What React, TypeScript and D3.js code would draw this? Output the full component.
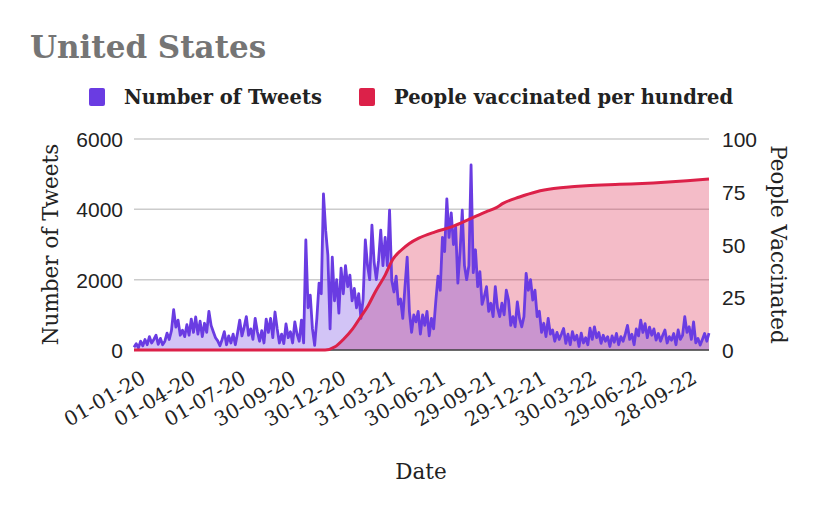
import React from 'react';
import * as d3 from 'd3';

// Tweets: one value every 4 days from 01-01-2020
const tweetStart = '2020-01-01';
const tweetStepDays = 4;
const tweetValues = [
  80, 180, 60, 250, 120, 300, 150, 380, 200, 300, 420, 160, 330, 150, 250,
  480, 300, 550, 1150, 650, 850, 420, 560, 380, 720, 420, 880, 500, 940, 450,
  820, 380, 760, 500, 1100, 700, 520, 350, 260, 120, 300, 520, 150, 400, 200,
  450, 150, 480, 850, 400, 650, 950, 420, 600, 300, 900, 520, 250, 550, 200,
  880, 500, 900, 350, 1080, 600, 200, 450, 180, 740, 350, 520, 200, 800, 450,
  250, 850, 200, 3130, 1200, 1560, 600, 130, 900, 1900, 1600, 4440, 3400, 2700, 600,
  2640, 1400, 2000, 1050, 2330, 1600, 2400, 1800, 2130, 1400, 1750, 1200, 1600, 900, 1450,
  3130, 2400, 2000, 3550, 2500, 2000, 2540, 3410, 2400, 3200, 2400, 3980, 1980, 1650, 2100,
  1300, 1450, 900, 1800, 2640, 1100, 500, 1000, 800, 1100, 450, 1000, 700, 1100, 400,
  900, 600, 1400, 2100, 1700, 3200, 2800, 4300, 3200, 3900, 3000, 3500, 1900, 2800, 3980,
  2400, 2000, 2400, 5260, 2200, 2850, 1800, 2230, 1300, 1520, 1800, 1100, 1330, 950, 1800,
  1200, 950, 1330, 1000, 1700, 1420, 700, 950, 660, 1370, 900, 660, 950, 2180, 1700,
  2000, 1420, 1700, 950, 1100, 500, 760, 380, 900, 450, 570, 250, 500, 300, 450,
  610, 190, 450, 150, 520, 280, 420, 100, 480, 200, 350, 150, 620, 300, 660,
  350, 500, 190, 420, 250, 380, 100, 400, 220, 470, 150, 380, 250, 450, 700,
  300, 450, 150, 600, 400, 850, 500, 750, 350, 650, 420, 600, 280, 470, 250,
  420, 570, 200, 380, 280, 470, 150, 570, 300, 420, 950, 500, 660, 300, 800,
  200, 330, 140, 300, 470, 250, 480,
];

// People vaccinated per hundred
const vaxDates = [
  '2020-01-01', '2020-12-13', '2020-12-31', '2021-01-15', '2021-02-01', '2021-02-15',
  '2021-03-01', '2021-03-15', '2021-04-01', '2021-04-15', '2021-05-01', '2021-05-15',
  '2021-06-01', '2021-07-01', '2021-08-01', '2021-09-01', '2021-10-01', '2021-10-20',
  '2021-11-01', '2021-12-01', '2022-01-01', '2022-02-01', '2022-03-01', '2022-04-01',
  '2022-06-01', '2022-08-01', '2022-10-01', '2022-11-10',
];
const vaxValues = [
  0, 0, 1.5, 5, 10, 15.5,
  21, 28, 35.5, 43, 47.5, 50.5,
  53, 56, 58.5, 62, 65.5, 67.5,
  69.5, 72.5, 75, 76.5, 77.3, 77.8,
  78.5, 79.2, 80.2, 81,
];

const xTickDates = [
  '2020-01-01', '2020-04-01', '2020-07-01', '2020-09-30', '2020-12-30', '2021-03-31',
  '2021-06-30', '2021-09-29', '2021-12-29', '2022-03-30', '2022-06-29', '2022-09-28',
];
const xTickLabels = [
  '01-01-20', '01-04-20', '01-07-20', '30-09-20', '30-12-20', '31-03-21',
  '30-06-21', '29-09-21', '29-12-21', '30-03-22', '29-06-22', '28-09-22',
];
const leftTicks = [0, 2000, 4000, 6000];
const rightTicks = [0, 25, 50, 75, 100];

const PURPLE = '#6a3ce2';
const RED = '#dc2149';
const SERIF = '"DejaVu Serif", serif';
const SANS = '"Liberation Sans", Arial, sans-serif';

export default function App() {
  const width = 832;
  const height = 513;
  const margin = { top: 139, right: 123, bottom: 163, left: 134 };
  const innerW = width - margin.left - margin.right;
  const innerH = height - margin.top - margin.bottom;

  const parse = d3.timeParse('%Y-%m-%d');
  const start = parse(tweetStart) as Date;
  const tweets = tweetValues.map((v, i) => ({ date: d3.timeDay.offset(start, i * tweetStepDays), value: v }));
  const vax = vaxDates.map((d, i) => ({ date: parse(d) as Date, value: vaxValues[i] }));

  const x = d3.scaleTime()
    .domain([start, tweets[tweets.length - 1].date])
    .range([0, innerW]);
  const yL = d3.scaleLinear().domain([0, 6000]).range([innerH, 0]);
  const yR = d3.scaleLinear().domain([0, 100]).range([innerH, 0]);

  type P = { date: Date; value: number };
  const tweetLine = d3.line<P>().x(d => x(d.date)).y(d => yL(d.value));
  const tweetArea = d3.area<P>().x(d => x(d.date)).y0(innerH).y1(d => yL(d.value));
  const vaxLine = d3.line<P>().x(d => x(d.date)).y(d => yR(d.value)).curve(d3.curveMonotoneX);
  const vaxArea = d3.area<P>().x(d => x(d.date)).y0(innerH).y1(d => yR(d.value)).curve(d3.curveMonotoneX);

  return (
    <svg width={width} height={height} style={{ position: 'absolute', left: 0, top: 0, background: '#fff' }}>
      <text x={30} y={58} fontFamily={SERIF} fontWeight="bold" fontSize={31} fill="#757575">
        United States
      </text>

      {/* legend */}
      <g fontFamily={SERIF} fontWeight="bold" fontSize={19.5} fill="#222">
        <rect x={89} y={88} width={16} height={18} rx={2} fill={PURPLE} />
        <text x={124} y={104}>Number of Tweets</text>
        <rect x={359} y={88} width={16} height={18} rx={2} fill={RED} />
        <text x={394} y={104}>People vaccinated per hundred</text>
      </g>

      <g transform={`translate(${margin.left},${margin.top})`}>
        {leftTicks.map(t => (
          <line key={t} x1={0} x2={innerW} y1={yL(t)} y2={yL(t)} stroke="#cccccc" strokeWidth={1.5} />
        ))}

        <path d={vaxArea(vax) ?? ''} fill={RED} fillOpacity={0.3} />
        <path d={tweetArea(tweets) ?? ''} fill={PURPLE} fillOpacity={0.3} />
        <line x1={0} x2={innerW} y1={innerH} y2={innerH} stroke="#444" strokeWidth={1.5} />
        <path d={tweetLine(tweets) ?? ''} fill="none" stroke={PURPLE} strokeWidth={2.8} strokeLinejoin="round" />
        <path d={vaxLine(vax) ?? ''} fill="none" stroke={RED} strokeWidth={3} />

        {leftTicks.map(t => (
          <text key={t} x={-11} y={yL(t) + 8} textAnchor="end" fontFamily={SANS} fontSize={21} fill="#222">
            {t}
          </text>
        ))}
        {rightTicks.map(t => (
          <text key={t} x={innerW + 13} y={yR(t) + 8} fontFamily={SANS} fontSize={21} fill="#222">
            {t}
          </text>
        ))}

        {xTickDates.map((d, i) => {
          const tx = x(parse(d) as Date) + 13;
          const ty = innerH + 32;
          return (
            <text key={d} x={tx} y={ty} textAnchor="end" transform={`rotate(-30,${tx},${ty})`}
              fontFamily={SERIF} fontSize={20} fill="#222">
              {xTickLabels[i]}
            </text>
          );
        })}
      </g>

      <text transform={`translate(58,${margin.top + innerH / 2}) rotate(-90)`} textAnchor="middle"
        fontFamily={SERIF} fontSize={21.5} fill="#222">
        Number of Tweets
      </text>
      <text transform={`translate(771,${margin.top + innerH / 2}) rotate(90)`} textAnchor="middle"
        fontFamily={SERIF} fontSize={21.5} fill="#222">
        People Vaccinated
      </text>
      <text x={421} y={479} textAnchor="middle" fontFamily={SERIF} fontSize={21.5} fill="#222">
        Date
      </text>
    </svg>
  );
}
